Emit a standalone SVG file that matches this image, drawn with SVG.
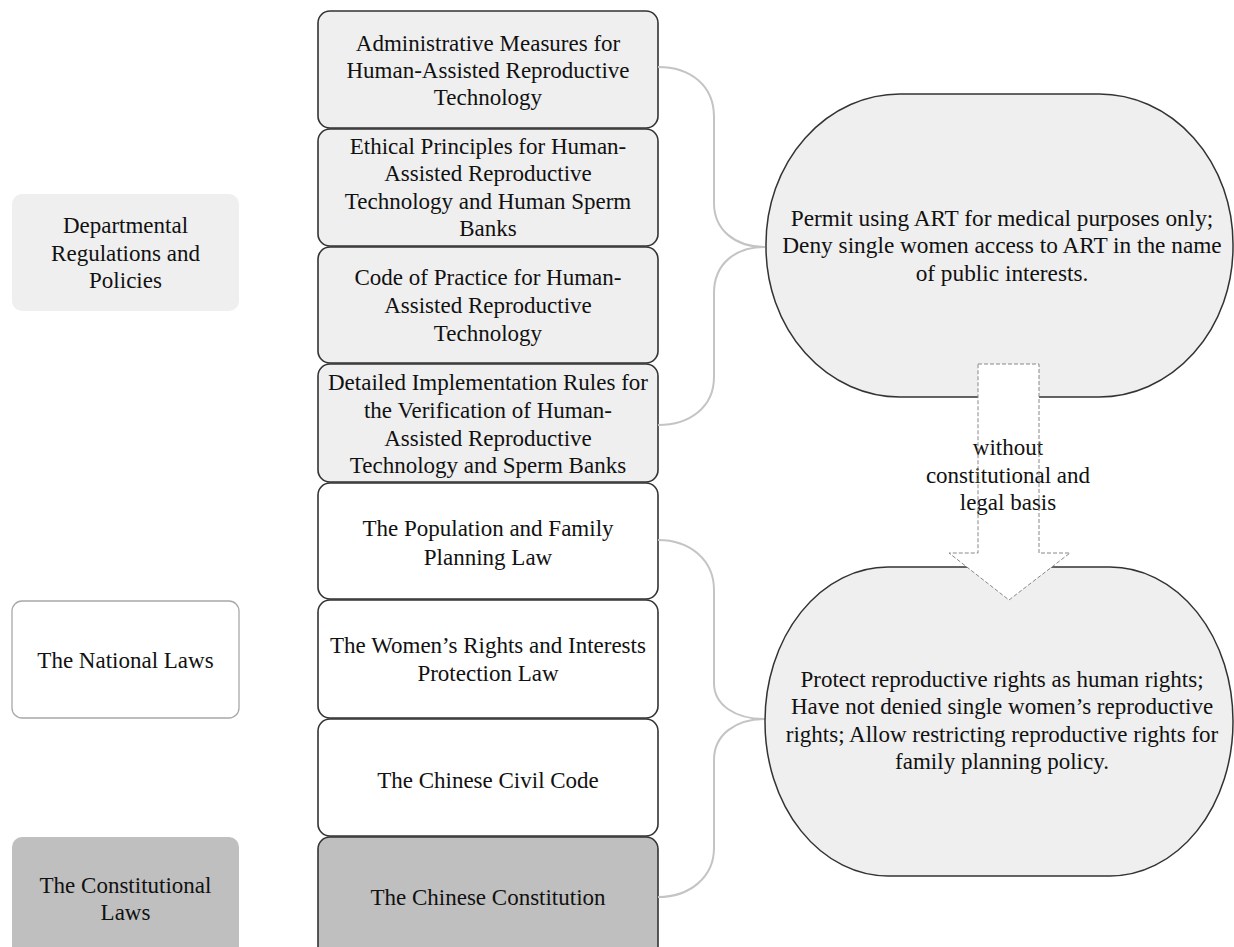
<svg xmlns="http://www.w3.org/2000/svg" width="1234" height="947" viewBox="0 0 1234 947">
<style>
text{font-family:"Liberation Serif","Times New Roman",serif;font-size:23px;fill:#111;text-anchor:middle}
.mid{stroke:#333;stroke-width:1.6}
.lg{fill:#efefef}
.wh{fill:#ffffff}
.dk{fill:#bfbfbf}
.conn{fill:none;stroke:#c4c4c4;stroke-width:2}
.big{fill:#efefef;stroke:#333;stroke-width:1.5}
.arrowfill{fill:#ffffff;stroke:none}
.arrow{fill:none;stroke:#888;stroke-width:1;stroke-dasharray:4 2}
</style>
<defs>
<path id="arrowshape" d="M978,364 L1039,364 L1039,553 L1070,553 L1009,600 L949,553 L978,553 Z"/>
</defs>
<rect width="1234" height="947" fill="#ffffff"/>

<g id="left-dept">
<rect x="12" y="194" width="227" height="117" rx="10" class="lg"/>
<text x="125.5" y="232.5">Departmental</text>
<text x="125.5" y="260.5">Regulations and</text>
<text x="125.5" y="287.5">Policies</text>
</g>
<g id="left-national">
<rect x="12" y="601" width="227" height="117" rx="10" fill="#fff" stroke="#a8a8a8" stroke-width="1.3"/>
<text x="125.5" y="667.5">The National Laws</text>
</g>
<g id="left-constitutional">
<rect x="12" y="837" width="227" height="130" rx="10" class="dk"/>
<text x="125.5" y="892.5">The Constitutional</text>
<text x="125.5" y="919.5">Laws</text>
</g>

<g id="box1">
<rect x="318" y="11" width="340" height="117" rx="12" class="mid lg"/>
<text x="488" y="50.5">Administrative Measures for</text>
<text x="488" y="77.5">Human-Assisted Reproductive</text>
<text x="488" y="104.5">Technology</text>
</g>
<g id="box2">
<rect x="318" y="129" width="340" height="117" rx="12" class="mid lg"/>
<text x="488" y="153.5">Ethical Principles for Human-</text>
<text x="488" y="181">Assisted Reproductive</text>
<text x="488" y="208.5">Technology and Human Sperm</text>
<text x="488" y="236">Banks</text>
</g>
<g id="box3">
<rect x="318" y="247" width="340" height="116" rx="12" class="mid lg"/>
<text x="488" y="284.5">Code of Practice for Human-</text>
<text x="488" y="312.5">Assisted Reproductive</text>
<text x="488" y="340.5">Technology</text>
</g>
<g id="box4">
<rect x="318" y="364" width="340" height="118" rx="12" class="mid lg"/>
<text x="488" y="389.5">Detailed Implementation Rules for</text>
<text x="488" y="417.5">the Verification of Human-</text>
<text x="488" y="445.5">Assisted Reproductive</text>
<text x="488" y="472.5">Technology and Sperm Banks</text>
</g>
<g id="box5">
<rect x="318" y="483" width="340" height="116" rx="12" class="mid wh"/>
<text x="488" y="535.5">The Population and Family</text>
<text x="488" y="564.5">Planning Law</text>
</g>
<g id="box6">
<rect x="318" y="600" width="340" height="118" rx="12" class="mid wh"/>
<text x="488" y="652.5">The Women’s Rights and Interests</text>
<text x="488" y="680.5">Protection Law</text>
</g>
<g id="box7">
<rect x="318" y="719" width="340" height="117" rx="12" class="mid wh"/>
<text x="488" y="787.5">The Chinese Civil Code</text>
</g>
<g id="box8">
<rect x="318" y="837" width="340" height="130" rx="12" class="mid dk"/>
<text x="488" y="904.5">The Chinese Constitution</text>
</g>

<g id="connectors">
<path class="conn" d="M658,67 C690,67 714,85 714,117 L714,203 C714,230 735,247 765,247"/>
<path class="conn" d="M658,425 C690,425 714,407 714,377 L714,293 C714,264 735,247 765,247"/>
<path class="conn" d="M658,540 C690,540 714,560 714,590 L714,683 C714,705 735,719 765,719"/>
<path class="conn" d="M658,897 C690,897 714,877 714,848 L714,760 C714,735 735,719 765,719"/>
</g>

<g id="result-top">
<rect x="766" y="94" width="467" height="303" rx="134" ry="150" class="big"/>
<text x="1002" y="226" style="font-size:23.3px">Permit using ART for medical purposes only;</text>
<text x="1002" y="253" style="font-size:23.3px">Deny single women access to ART in the name</text>
<text x="1002" y="280.5" style="font-size:23.3px">of public interests.</text>
</g>
<g id="result-bottom">
<rect x="765" y="567" width="468" height="309" rx="123" ry="154" class="big"/>
<text x="1002" y="686.5">Protect reproductive rights as human rights;</text>
<text x="1002" y="714">Have not denied single women’s reproductive</text>
<text x="1002" y="741.5">rights; Allow restricting reproductive rights for</text>
<text x="1002" y="769">family planning policy.</text>
</g>

<g id="arrow">
<use href="#arrowshape" class="arrowfill"/>
<text x="1008" y="455">without</text>
<text x="1008" y="483">constitutional and</text>
<text x="1008" y="510">legal basis</text>
<use href="#arrowshape" class="arrow"/>
</g>
</svg>
